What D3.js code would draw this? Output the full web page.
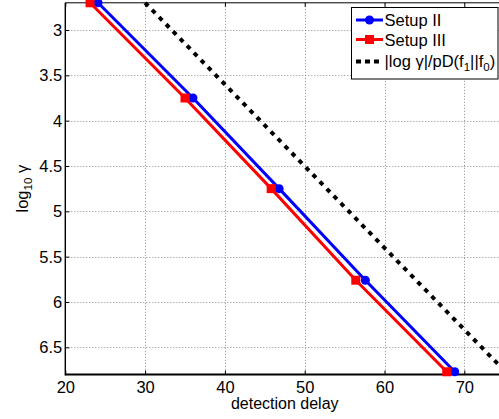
<!DOCTYPE html>
<html>
<head>
<meta charset="utf-8">
<script src="https://cdn.jsdelivr.net/npm/d3@7"></script>
<style>
  body { margin: 0; background: #fff; }
  svg { display: block; font-family: "Liberation Sans", Arial, sans-serif; }
  .tick text { font-size: 16.5px; fill: #000; }
</style>
</head>
<body>
<div id="chart"></div>
<script>
// values
const logGamma     = [2.7, 3.75, 4.75, 5.76, 6.77];
const delaySetup2  = [24.1, 36.0, 46.8, 57.6, 68.8];
const delaySetup3  = [23.1, 35.0, 45.8, 56.4, 67.8];
const boundLogGamma = [2.7, 6.8];
const boundDelay    = [30.0, 75.5];
const xTicks = [20, 30, 40, 50, 60, 70];
const yTicks = [3, 3.5, 4, 4.5, 5, 5.5, 6, 6.5];

const width = 499, height = 419;
const plotLeft = 65.3, plotTop = 2.8, plotBottom = 374.5;
// axes run on past the right edge of the picture (cropped figure)
const plotRight = plotLeft + 55 * 7.98;

const svg = d3.select("#chart").append("svg")
  .attr("width", width)
  .attr("height", height);

svg.append("rect").attr("width", width).attr("height", height).attr("fill", "#fff");

const x = d3.scaleLinear().domain([20, 75]).range([plotLeft, plotRight]);
const y = d3.scaleLinear().domain([2.7, 6.8]).range([plotTop, plotBottom]);

// grid
const grid = svg.append("g")
  .attr("stroke", "#8c8c8c")
  .attr("stroke-width", 1)
  .attr("stroke-dasharray", "1,2");
grid.selectAll(".gx").data(xTicks.slice(1)).enter().append("line")
  .attr("x1", d => Math.round(x(d)) + 0.5).attr("x2", d => Math.round(x(d)) + 0.5)
  .attr("y1", plotTop).attr("y2", plotBottom);
grid.selectAll(".gy").data(yTicks).enter().append("line")
  .attr("y1", d => Math.round(y(d)) + 0.5).attr("y2", d => Math.round(y(d)) + 0.5)
  .attr("x1", plotLeft).attr("x2", plotRight);

// axes
const xAxis = svg.append("g")
  .attr("transform", `translate(0,${plotBottom})`)
  .call(d3.axisBottom(x).tickValues(xTicks).tickSizeInner(-4).tickSizeOuter(0).tickPadding(7));
const yAxis = svg.append("g")
  .attr("transform", `translate(${plotLeft},0)`)
  .call(d3.axisLeft(y).tickValues(yTicks).tickFormat(d => String(d))
    .tickSizeInner(-4).tickSizeOuter(0).tickPadding(3));
const xTop = svg.append("g")
  .attr("transform", `translate(0,${plotTop})`)
  .call(d3.axisTop(x).tickValues(xTicks).tickSizeInner(-4).tickSizeOuter(0).tickFormat(""));
[xAxis, yAxis, xTop].forEach(g => {
  g.select(".domain").remove();
  g.selectAll(".tick line").attr("stroke", "#000");
});
yAxis.selectAll(".tick text").attr("dy", "0.34em");

svg.append("line").attr("x1", plotLeft).attr("x2", plotRight).attr("y1", plotTop).attr("y2", plotTop)
  .attr("stroke", "#000").attr("stroke-width", 1);
svg.append("line").attr("x1", plotLeft).attr("x2", plotLeft).attr("y1", plotTop).attr("y2", plotBottom + 1)
  .attr("stroke", "#000").attr("stroke-width", 1.4);
svg.append("line").attr("x1", plotLeft).attr("x2", plotRight).attr("y1", plotBottom).attr("y2", plotBottom)
  .attr("stroke", "#000").attr("stroke-width", 2);

// labels
svg.append("text")
  .attr("x", (plotLeft + plotRight) / 2).attr("y", 409)
  .attr("text-anchor", "middle")
  .attr("font-size", 16)
  .text("detection delay");

const yl = svg.append("text")
  .attr("transform", `translate(28,${(plotTop + plotBottom) / 2}) rotate(-90)`)
  .attr("text-anchor", "middle")
  .attr("font-size", 16.5);
yl.append("tspan").text("log");
yl.append("tspan").attr("font-size", 11.5).attr("dy", 4).text("10");
yl.append("tspan").attr("dy", -4).text(" γ");

// series
const plot = svg.append("g");
const line = d3.line().x(d => x(d[0])).y(d => y(d[1]));

plot.append("path")
  .datum(d3.zip(boundDelay, boundLogGamma))
  .attr("d", line)
  .attr("fill", "none").attr("stroke", "#000")
  .attr("stroke-width", 4).attr("stroke-dasharray", "4.5,5.5");

const series = [
  { name: "Setup II", color: "#0000ff", delay: delaySetup2, shape: "circle" },
  { name: "Setup III", color: "#ff0000", delay: delaySetup3, shape: "square" }
];

series.forEach(s => {
  const pts = d3.zip(s.delay, logGamma);
  plot.append("path").datum(pts).attr("d", line)
    .attr("fill", "none").attr("stroke", s.color).attr("stroke-width", 3);
});
series.forEach(s => {
  const pts = d3.zip(s.delay, logGamma);
  if (s.shape === "circle") {
    plot.selectAll(null).data(pts).enter().append("circle")
      .attr("cx", d => x(d[0])).attr("cy", d => y(d[1])).attr("r", 4.5)
      .attr("fill", s.color);
  } else {
    plot.selectAll(null).data(pts).enter().append("rect")
      .attr("x", d => x(d[0]) - 4.5).attr("y", d => y(d[1]) - 4.5)
      .attr("width", 9).attr("height", 9)
      .attr("fill", s.color);
  }
});

// legend
const lg = svg.append("g");
lg.append("rect").attr("x", 351.5).attr("y", 7.5).attr("width", 146.5).attr("height", 71.5)
  .attr("fill", "#fff").attr("stroke", "#000").attr("stroke-width", 1);
const rows = [20, 39.5];
series.forEach((s, i) => {
  lg.append("line").attr("x1", 356).attr("x2", 383).attr("y1", rows[i]).attr("y2", rows[i])
    .attr("stroke", s.color).attr("stroke-width", 3);
  if (s.shape === "circle") {
    lg.append("circle").attr("cx", 369.5).attr("cy", rows[i]).attr("r", 4.5).attr("fill", s.color);
  } else {
    lg.append("rect").attr("x", 365).attr("y", rows[i] - 4.5).attr("width", 9).attr("height", 9).attr("fill", s.color);
  }
  lg.append("text").attr("x", 384.5).attr("y", rows[i] + 6).attr("font-size", 16.5).text(s.name);
});
lg.append("line").attr("x1", 356).attr("x2", 383).attr("y1", 61.5).attr("y2", 61.5)
  .attr("stroke", "#000").attr("stroke-width", 4).attr("stroke-dasharray", "5,4");
const t3 = lg.append("text").attr("x", 384.5).attr("y", 66.5).attr("font-size", 16.5);
t3.append("tspan").text("|log γ|/pD(f");
t3.append("tspan").attr("font-size", 11.5).attr("dy", 4).text("1");
t3.append("tspan").attr("dy", -4).text("||f");
t3.append("tspan").attr("font-size", 11.5).attr("dy", 4).text("0");
t3.append("tspan").attr("dy", -4).text(")");
</script>
</body>
</html>
